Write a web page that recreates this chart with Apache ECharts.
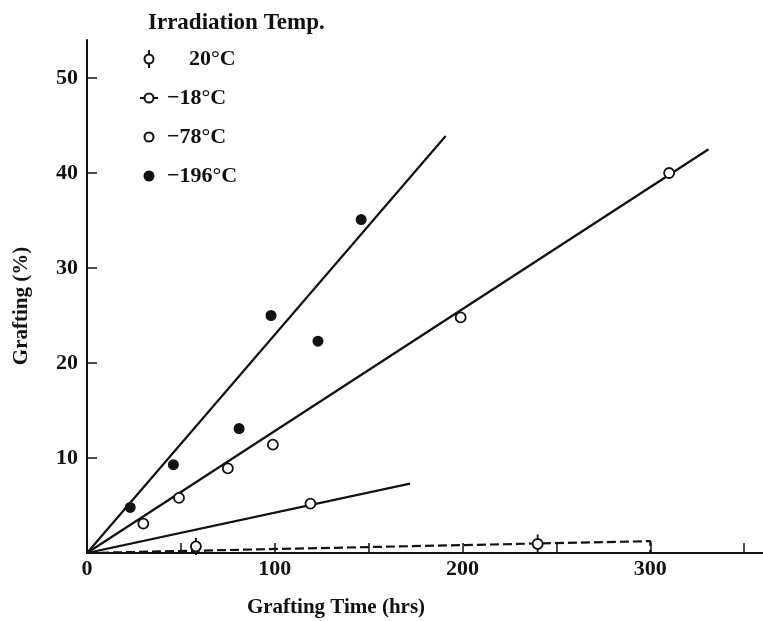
<!DOCTYPE html>
<html>
<head>
<meta charset="utf-8">
<script src="https://cdn.jsdelivr.net/npm/echarts@6/dist/echarts.min.js"></script>
<style>html,body{margin:0;background:#fff}#chart{width:763px;height:621px}</style>
</head>
<body>
<div id="chart"></div>
<script>
// ---- data ----
const xLabels = [0, 100, 200, 300]
const xTickVals = [50, 100, 150, 200, 250, 300, 350]
const yLabels = [10, 20, 30, 40, 50]

const pts20 = [[58, 0.7], [240, 0.95]]      // 20°C, with error bars
const err20 = [0.9, 1.0]
const pts18 = [[119, 5.2]]                  // -18°C
const pts78 = [[30, 3.1], [49, 5.8], [75, 8.9], [99, 11.4], [199, 24.8], [310, 40]]
const pts196 = [[23, 4.8], [46, 9.3], [81, 13.1], [98, 25], [123, 22.3], [146, 35.1]]

// fitted lines
const fit20 = [[0, 0], [300, 1.25], [300, 0]]
const fit18 = [[0, 0], [172, 7.3]]
const fit78 = [[0, 0], [331, 42.5]]
const fit196 = [[0, 0], [191, 43.9]]

const FONT = 'Liberation Serif'
const ink = '#111'

let myChart = echarts.init(document.getElementById('chart'))

// legend icons (18x18 box, the M0 0 M18 18 moves keep the box size)
const circ = 'M4.5 9 A4.5 4.5 0 1 0 13.5 9 A4.5 4.5 0 1 0 4.5 9 Z'
const iconBar = 'path://M0 0 M18 18 M9 0 L9 4.5 M9 13.5 L9 18 ' + circ
const iconDash = 'path://M0 0 M18 18 M0 9 L4.5 9 M13.5 9 L18 9 ' + circ
const iconCirc = 'path://M0 0 M18 18 ' + circ
const iconDot = 'path://M0 0 M18 18 M3.5 9 A5.5 5.5 0 1 0 14.5 9 A5.5 5.5 0 1 0 3.5 9 Z'
const openStyle = { color: '#fff', borderColor: ink, borderWidth: 1.8, opacity: 1 }

function fitLine(data, dashed) {
    return {
        type: 'line',
        data: data,
        symbol: 'none',
        silent: true,
        z: 1,
        lineStyle: { color: ink, width: 2.2, type: dashed ? [9, 4] : 'solid' }
    }
}

let option = {
    animation: false,
    backgroundColor: '#fff',
    grid: { left: 87, right: 0, top: 40, bottom: 68 },
    title: [
        {
            text: 'Irradiation Temp.',
            left: 143, top: 7,
            textStyle: { fontFamily: FONT, fontWeight: 'bold', fontSize: 23, color: ink }
        },
        {
            text: 'Grafting Time (hrs)',
            left: 331, top: 592, textAlign: 'center',
            textStyle: { fontFamily: FONT, fontWeight: 'bold', fontSize: 21, color: ink }
        }
    ],
    graphic: [{
        type: 'text',
        x: 22, y: 306,
        rotation: Math.PI / 2,
        style: {
            text: 'Grafting (%)',
            font: 'bold 21px ' + FONT,
            fill: ink,
            align: 'center',
            verticalAlign: 'middle'
        }
    }],
    legend: {
        orient: 'vertical',
        left: 134, top: 43,
        itemWidth: 18, itemHeight: 18,
        itemGap: 17,
        selectedMode: false,
        formatter: function (n) { return n === '20°C' ? '\u2002\u200220°C' : n },
        textStyle: { fontFamily: FONT, fontWeight: 'bold', fontSize: 22, color: ink, padding: [0, 0, 0, 4] },
        data: [
            { name: '20°C', icon: iconBar },
            { name: '\u221218°C', icon: iconDash },
            { name: '\u221278°C', icon: iconCirc },
            { name: '\u2212196°C', icon: iconDot }
        ]
    },
    xAxis: {
        type: 'value',
        min: 0, max: 360,
        splitLine: { show: false },
        axisLine: { onZero: false, lineStyle: { color: ink, width: 2 } },
        axisTick: { inside: true, length: 10, customValues: xTickVals, lineStyle: { color: ink, width: 1.5 } },
        axisLabel: { customValues: xLabels, margin: 5, fontFamily: FONT, fontWeight: 'bold', fontSize: 22, color: ink }
    },
    yAxis: {
        type: 'value',
        min: 0, max: 54,
        splitLine: { show: false },
        axisLine: { onZero: false, lineStyle: { color: ink, width: 2 } },
        axisTick: { inside: true, length: 10, customValues: yLabels, lineStyle: { color: ink, width: 1.5 } },
        axisLabel: { customValues: yLabels, margin: 9, fontFamily: FONT, fontWeight: 'bold', fontSize: 22, color: ink }
    },
    series: [
        fitLine(fit196),
        fitLine(fit78),
        fitLine(fit18),
        fitLine(fit20, true),
        { // error bars of the 20°C points
            type: 'custom',
            silent: true,
            z: 2,
            data: pts20.map((p, i) => [p[0], p[1], err20[i]]),
            renderItem: function (params, api) {
                let x = api.value(0), y = api.value(1), e = api.value(2)
                let a = api.coord([x, y - e]), b = api.coord([x, y + e])
                return {
                    type: 'line',
                    shape: { x1: a[0], y1: a[1], x2: b[0], y2: b[1] },
                    style: { stroke: ink, lineWidth: 1.8 }
                }
            }
        },
        { name: '20°C', type: 'scatter', data: pts20, symbol: 'circle', symbolSize: 10, z: 3, itemStyle: openStyle },
        { name: '\u221218°C', type: 'scatter', data: pts18, symbol: 'circle', symbolSize: 10, z: 3, itemStyle: openStyle },
        { name: '\u221278°C', type: 'scatter', data: pts78, symbol: 'circle', symbolSize: 10, z: 3, itemStyle: openStyle },
        { name: '\u2212196°C', type: 'scatter', data: pts196, symbol: 'circle', symbolSize: 11, z: 3, itemStyle: { color: ink, opacity: 1 } }
    ]
}

myChart.setOption(option)
</script>
</body>
</html>
